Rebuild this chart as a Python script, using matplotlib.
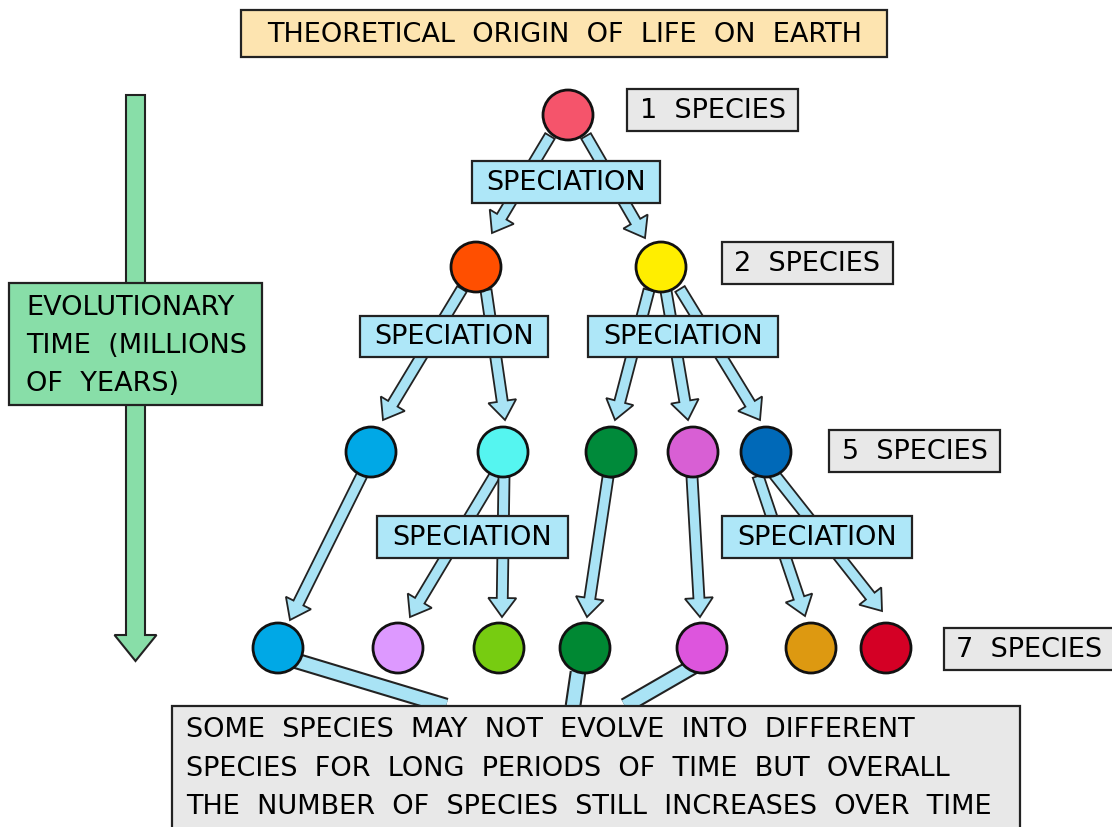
import matplotlib
matplotlib.use("Agg")
import matplotlib.pyplot as plt
from matplotlib.patches import Circle, Rectangle, FancyArrow

# ---- diagram data (pixel coordinates of the reference) ----
node_x = [568, 476, 661, 371, 503, 611, 693, 766, 278, 398, 499, 585, 702, 811, 886]
node_y = [115, 267, 267, 452, 452, 452, 452, 452, 648, 648, 648, 648, 648, 648, 648]
node_colors = ['#f5546b', '#ff4f00', '#ffee00',
               '#00a8e6', '#55f5f0', '#008a3a', '#d85fd4', '#0069b8',
               '#00a8e6', '#dd99ff', '#77cc11', '#008833', '#dd55dd', '#dd9911', '#d40025']
# arrows: start point, end point (tip)
arrow_start = [(550, 136), (586, 136),
               (462, 289), (486, 290),
               (649, 290), (666, 291), (680, 289),
               (362, 475), (495, 475), (504, 477), (608, 477), (692, 477), (758, 476), (774, 474)]
arrow_end = [(492, 233), (645, 238),
             (383, 420), (505, 420),
             (615, 420), (688, 420), (760, 420),
             (290, 620), (410, 617), (502, 617), (587, 617), (700, 617), (805, 616), (882, 611)]
# plain links from level 3 to the note box
link_start = [(290, 659), (578, 672), (696, 665)]
link_end = [(446, 706), (573, 706), (625, 706)]

speciation_boxes = [(472, 161, 188, 42), (360, 316, 188, 41), (588, 316, 190, 41),
                    (377, 516, 191, 42), (722, 516, 190, 42)]
species_labels = ['1  SPECIES', '2  SPECIES', '5  SPECIES', '7  SPECIES']
species_boxes = [(627, 89, 171, 42), (722, 242, 171, 42), (829, 430, 171, 42), (944, 628, 170, 42)]

title = 'THEORETICAL  ORIGIN  OF  LIFE  ON  EARTH'
time_lines = ['EVOLUTIONARY', 'TIME  (MILLIONS', 'OF  YEARS)']
note_lines = ['SOME  SPECIES  MAY  NOT  EVOLVE  INTO  DIFFERENT',
              'SPECIES  FOR  LONG  PERIODS  OF  TIME  BUT  OVERALL',
              'THE  NUMBER  OF  SPECIES  STILL  INCREASES  OVER  TIME']

edge = '#222222'
arrow_fill = '#a9e3f5'
font = 'DejaVu Sans'
fs = 19.5

fig = plt.figure(figsize=(11.12, 8.27), dpi=100)
ax = fig.add_axes([0, 0, 1, 1])
ax.set_xlim(0, 1112)
ax.set_ylim(827, 0)
ax.axis('off')

def box(x, y, w, h, fc, z=4):
    ax.add_patch(Rectangle((x, y), w, h, facecolor=fc, edgecolor=edge, lw=1.6, zorder=z))

# title
box(241, 10, 646, 47, '#fde4b0')
ax.text(565, 35, title, ha='center', va='center', fontsize=fs, family=font, zorder=5)

# time arrow
ax.add_patch(FancyArrow(135.5, 95, 0, 566, width=19, head_width=42, head_length=26,
                        length_includes_head=True, facecolor='#88dea8', edgecolor=edge,
                        lw=1.5, zorder=2))
box(9, 283, 253, 122, '#88dea8')
for i, line in enumerate(time_lines):
    ax.text(26, 308 + i * 38, line, ha='left', va='center', fontsize=fs, family=font, zorder=5)

# links to the note
for (x0, y0), (x1, y1) in zip(link_start, link_end):
    ax.plot([x0, x1], [y0, y1], color=edge, lw=12, solid_capstyle='butt', zorder=1)
    ax.plot([x0, x1], [y0, y1], color=arrow_fill, lw=9, solid_capstyle='butt', zorder=1)

# speciation arrows
for (x0, y0), (x1, y1) in zip(arrow_start, arrow_end):
    ax.add_patch(FancyArrow(x0, y0, x1 - x0, y1 - y0, width=11, head_width=28,
                            head_length=19, length_includes_head=True,
                            facecolor=arrow_fill, edgecolor=edge, lw=1.3, zorder=1))

for (x, y, w, h) in speciation_boxes:
    box(x, y, w, h, '#aee7f8')
    ax.text(x + w / 2, y + h / 2 + 1, 'SPECIATION', ha='center', va='center',
            fontsize=fs, family=font, zorder=5)

for (x, y, w, h), lab in zip(species_boxes, species_labels):
    box(x, y, w, h, '#e8e8e8')
    ax.text(x + w / 2, y + h / 2 + 1, lab, ha='center', va='center',
            fontsize=fs, family=font, zorder=5)

# species circles
for x, y, c in zip(node_x, node_y, node_colors):
    ax.add_patch(Circle((x, y), 25, facecolor=c, edgecolor='#111111', lw=2, zorder=6))

# note box
box(172, 706, 848, 130, '#e8e8e8', z=3)
for i, line in enumerate(note_lines):
    ax.text(186, 730 + i * 38.5, line, ha='left', va='center', fontsize=fs, family=font, zorder=5)

fig.savefig('out.png', dpi=100)
